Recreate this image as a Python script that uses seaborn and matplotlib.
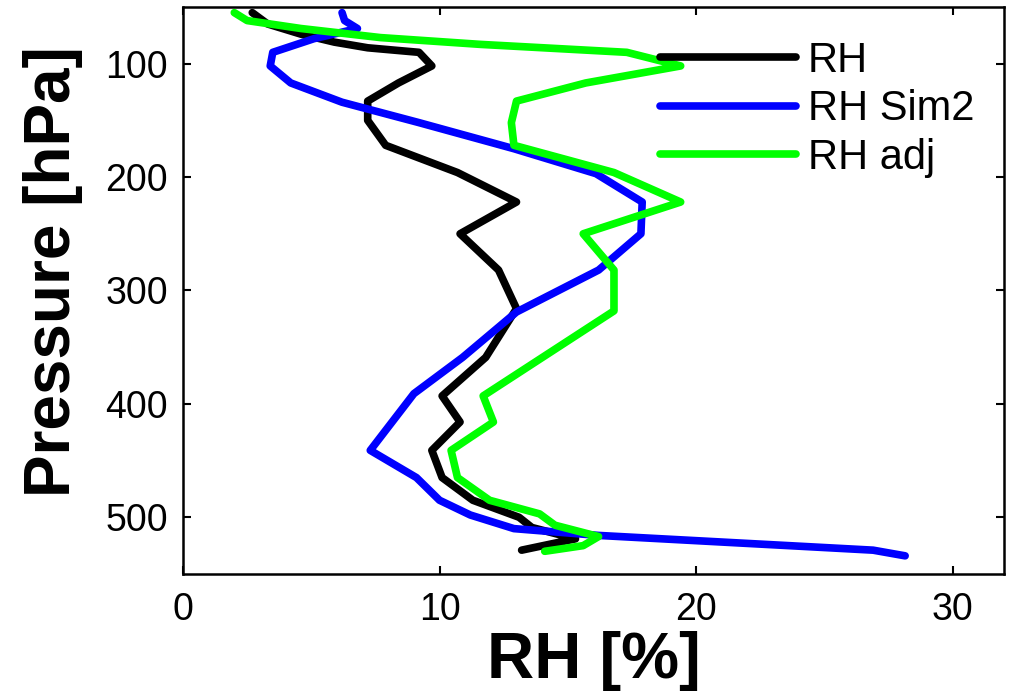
import matplotlib
matplotlib.use('Agg')
import matplotlib.pyplot as plt
import seaborn as sns
import pandas as pd

# pressure levels [hPa] and RH [%]
p_rh = [55, 65, 74, 81, 86, 90, 102, 117, 133, 150, 172, 196, 222, 250, 282, 316,
        359, 393, 416, 441, 465, 485, 500, 509, 519, 529]
rh = [2.7, 3.3, 4.6, 5.9, 7.2, 9.2, 9.7, 8.4, 7.2, 7.2, 7.9, 10.7, 13.0, 10.8, 12.3, 13.0,
      11.8, 10.1, 10.8, 9.7, 10.1, 11.3, 13.1, 13.6, 15.3, 13.2]

p_sim2 = [55, 62, 69, 78, 90, 102, 117, 134, 152, 175, 197, 222, 250, 282, 319,
          359, 391, 441, 465, 485, 498, 510, 516, 529, 534]
rh_sim2 = [6.2, 6.3, 6.8, 5.1, 3.5, 3.4, 4.2, 6.2, 9.2, 12.9, 16.1, 17.9, 17.85, 16.2, 13.0,
           10.9, 9.0, 7.3, 9.1, 10.0, 11.2, 12.9, 16.2, 26.9, 28.15]

p_adj = [55, 62, 69, 77, 83, 90, 102, 117, 133, 152, 172, 196, 222, 250, 282, 318,
         393, 416, 441, 465, 485, 497, 507, 517, 525, 530]
rh_adj = [2.0, 2.5, 4.6, 7.7, 11.6, 17.3, 19.4, 15.7, 13.0, 12.8, 12.9, 16.8, 19.4, 15.6, 16.8, 16.8,
          11.7, 12.1, 10.45, 10.7, 11.95, 13.9, 14.5, 16.2, 15.6, 14.1]

names = ['RH', 'RH Sim2', 'RH adj']
colors = ['#000000', '#0000ff', '#00ff00']

df = pd.concat([
    pd.DataFrame({'rh': rh, 'p': p_rh, 'series': names[0]}),
    pd.DataFrame({'rh': rh_sim2, 'p': p_sim2, 'series': names[1]}),
    pd.DataFrame({'rh': rh_adj, 'p': p_adj, 'series': names[2]}),
], ignore_index=True)

sns.set_style('ticks')
plt.rcParams['font.family'] = ['Liberation Sans', 'DejaVu Sans']
for k in ['text.color', 'axes.labelcolor', 'xtick.color', 'ytick.color', 'axes.edgecolor']:
    plt.rcParams[k] = 'black'

fig = plt.figure(figsize=(10.11, 6.97), dpi=100)
ax = fig.add_axes([0.181, 0.1765, 0.812, 0.8135])

sns.lineplot(data=df, x='rh', y='p', hue='series', palette=dict(zip(names, colors)),
             sort=False, estimator=None, lw=5.5, ax=ax)

ax.set_xlim(0, 32)
ax.set_ylim(550, 50)
ax.set_xticks([0, 10, 20, 30])
ax.set_yticks([100, 200, 300, 400, 500])
ax.tick_params(direction='in', length=6, width=1.5, labelsize=27, top=True, right=True)
ax.tick_params(axis='y', pad=11)
ax.tick_params(axis='x', pad=13)
for s in ax.spines.values():
    s.set_linewidth(1.8)
    s.set_visible(True)

ax.set_xlabel('RH [%]', fontsize=47, fontweight='bold', labelpad=2)
ax.set_ylabel('Pressure [hPa]', fontsize=46, fontweight='bold')
ax.yaxis.set_label_coords(-0.122, 0.533)

handles, labels = ax.get_legend_handles_labels()
ax.legend(handles, labels, loc='upper left', bbox_to_anchor=(0.581, 0.94), frameon=False,
          fontsize=30, handlelength=3.26, handletextpad=0.29, labelspacing=0.2,
          borderpad=0, borderaxespad=0)

fig.savefig('out.png', dpi=100)
